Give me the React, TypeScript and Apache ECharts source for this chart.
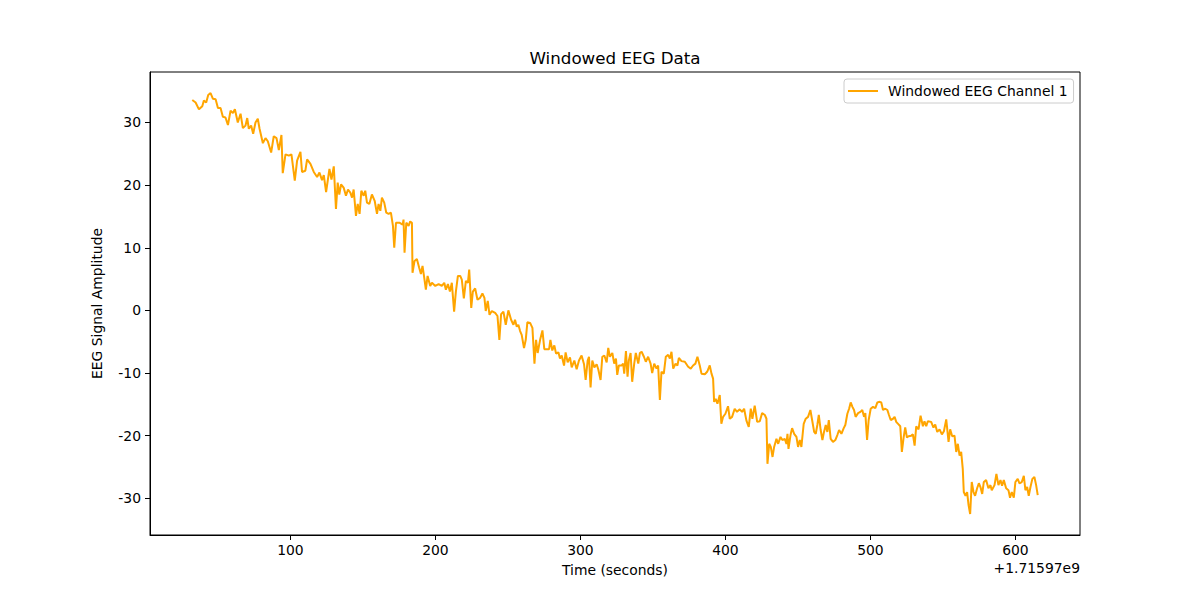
import React, { useEffect, useRef } from "react";
import * as echarts from "echarts";

const seriesName = "Windowed EEG Channel 1";
const xTicks = [100, 200, 300, 400, 500, 600];
const yTicks = [-30, -20, -10, 0, 10, 20, 30];
const offsetText = "+1.71597e9";

const times = [
  32.3, 34.6, 36.9, 39.2, 40.3, 41.9, 43.3, 44.9, 46.5, 48.4, 50.0, 51.8, 53.4, 55.2, 56.9, 58.7, 60.3, 61.7, 63.7, 65.6,
  67.2, 69.0, 70.2, 71.3, 72.9, 74.3, 75.9, 77.5, 78.7, 81.0, 82.8, 84.4, 86.7, 88.5, 90.4, 92.0, 93.8, 94.7, 96.6, 98.9,
  100.7, 103.0, 104.6, 106.9, 108.0, 110.3, 111.5, 113.8, 116.1, 118.4, 120.0, 121.8, 123.0, 124.6, 126.9, 128.3, 129.9,
  131.4, 132.6, 133.7, 134.9, 136.7, 138.3, 139.7, 141.3, 142.5, 143.6, 145.2, 146.4, 147.7, 148.9, 150.5, 151.6, 152.8,
  154.4, 156.2, 158.1, 159.7, 160.8, 162.0, 163.1, 164.7, 166.1, 167.7, 169.3, 170.7, 171.6, 172.8, 175.1, 177.4, 178.0,
  178.7, 179.9, 181.5, 182.6, 183.8, 184.2, 185.6, 187.2, 188.8, 190.0, 191.1, 192.3, 193.4, 194.6, 196.4, 197.6, 199.9,
  202.2, 204.4, 206.1, 207.2, 208.6, 210.0, 211.3, 212.9, 214.1, 215.5, 217.1, 218.2, 219.6, 221.0, 222.4, 223.3, 224.7,
  225.8, 227.4, 229.0, 230.8, 232.4, 233.8, 234.7, 236.1, 237.3, 238.9, 241.2, 242.8, 244.1, 245.3, 246.9, 248.5, 250.3,
  252.2, 253.8, 254.9, 256.1, 257.2, 258.4, 259.5, 261.1, 262.3, 263.4, 265.3, 266.9, 268.3, 269.4, 270.5, 272.2, 273.8,
  275.1, 276.7, 278.4, 279.3, 280.6, 282.0, 283.2, 284.8, 285.9, 287.1, 288.7, 289.8, 291.2, 292.8, 294.0, 295.8, 297.4,
  299.0, 300.8, 302.5, 303.6, 305.0, 305.9, 307.0, 308.2, 309.6, 311.2, 312.3, 313.9, 315.1, 316.5, 318.1, 319.2, 320.3,
  322.0, 323.3, 324.5, 325.4, 326.5, 328.4, 329.5, 330.2, 331.4, 332.5, 333.4, 334.6, 335.7, 337.1, 338.2, 339.9, 341.0,
  342.2, 343.8, 345.1, 346.7, 348.4, 349.5, 350.9, 352.5, 353.6, 354.8, 355.9, 357.5, 358.9, 360.5, 361.7, 362.8, 364.0,
  365.6, 366.9, 367.9, 369.7, 372.0, 374.3, 376.1, 377.7, 379.3, 380.7, 382.3, 383.5, 385.8, 387.4, 389.2, 390.4, 391.5,
  392.2, 393.3, 394.5, 396.1, 397.2, 398.4, 400.0, 401.8, 403.0, 404.6, 406.4, 408.0, 409.9, 411.5, 412.9, 414.5, 416.1,
  417.5, 418.6, 420.2, 421.9, 423.7, 425.3, 427.2, 428.3, 429.0, 430.2, 431.3, 432.5, 433.6, 435.2, 436.4, 438.0, 439.3,
  440.9, 442.1, 442.8, 443.5, 444.9, 446.0, 447.4, 449.0, 450.1, 451.3, 452.4, 454.0, 455.4, 457.0, 458.6, 459.8, 461.2,
  462.3, 463.4, 464.4, 465.7, 466.9, 468.0, 469.2, 470.3, 471.3, 472.6, 474.2, 475.8, 477.2, 478.4, 480.0, 481.6, 482.7,
  484.1, 485.3, 486.4, 487.6, 488.7, 489.8, 491.5, 493.1, 494.4, 495.6, 496.5, 497.7, 498.8, 500.2, 501.8, 503.4, 504.8,
  506.4, 507.5, 508.7, 510.3, 511.7, 512.8, 514.0, 515.6, 516.7, 517.8, 519.4, 520.6, 521.7, 522.9, 524.0, 525.2, 526.3,
  528.2, 529.3, 530.5, 531.6, 533.2, 534.6, 536.2, 537.3, 538.5, 539.6, 541.9, 543.5, 544.7, 546.1, 547.7, 549.3, 550.7,
  552.3, 553.9, 555.0, 556.4, 558.0, 559.2, 560.3, 561.5, 562.6, 563.7, 564.4, 565.6, 566.7, 567.7, 568.8, 569.9, 571.1,
  572.2, 573.6, 574.8, 575.9, 577.1, 578.2, 579.8, 581.4, 582.8, 583.7, 585.6, 586.9, 588.3, 589.7, 590.8, 592.0, 593.6,
  595.2, 596.3, 597.5, 598.9, 600.0, 601.6, 602.8, 604.4, 605.8, 606.9, 608.1, 609.2, 610.4, 611.7, 613.1, 614.3, 615.4,
];

const values = [
  33.6, 33.2, 32.1, 32.6, 33.5, 33.2, 34.4, 34.7, 33.8, 33.7, 32.3, 32.3, 30.9, 30.8, 29.6, 31.9, 31.5, 32.1, 30.0, 31.4,
  29.1, 29.5, 30.7, 29.0, 29.5, 28.2, 30.0, 30.6, 29.0, 26.7, 27.5, 27.0, 25.2, 27.8, 27.5, 25.6, 28.0, 21.9, 24.9, 24.7,
  24.9, 20.7, 23.9, 25.3, 22.1, 22.3, 24.1, 23.4, 22.1, 21.3, 22.0, 20.8, 21.6, 18.9, 22.6, 20.9, 23.0,
  16.2, 20.4, 18.5, 20.1, 19.6, 18.3, 19.3, 18.8, 18.0, 19.3, 15.1, 17.0, 15.4, 19.1, 18.3, 19.1, 17.2,
  17.0, 18.5, 17.5, 15.4, 17.0, 15.9, 18.0, 17.2, 15.6, 15.4, 15.6, 13.5, 10.0, 14.0, 14.0, 13.7, 14.5,
  9.2, 14.0, 13.5, 14.2, 14.0, 6.0, 7.9, 8.2, 6.8, 5.8, 7.1, 5.2, 3.3, 5.5, 3.9, 4.4, 3.9,
  4.2, 3.9, 4.4, 3.3, 4.2, 3.0, 4.4, -0.2, 3.0, 5.5, 5.5, 4.9, 1.9, 4.7, 4.4, 6.5, 0.4,
  3.0, 3.5, 1.7, 2.0, 2.7, 2.0, -0.1, 1.5, -0.7, -0.1, -0.4, -0.9, -4.7, -0.6, -0.2, -2.3, 0.0,
  -1.5, -2.3, -1.5, -2.6, -2.3, -3.3, -3.9, -6.0, -4.7, -1.9, -2.0, -2.8, -8.5, -4.7, -6.8, -4.7, -3.2,
  -6.2, -6.2, -6.2, -4.7, -6.4, -5.6, -6.9, -6.7, -7.7, -7.2, -8.8, -6.7, -8.3, -7.5, -9.1, -8.0, -9.4,
  -8.0, -7.2, -8.6, -11.1, -8.0, -7.4, -12.3, -8.0, -9.1, -8.6, -9.4, -11.1, -7.4, -7.2, -8.3, -6.0, -7.4,
  -6.8, -8.5, -7.7, -10.3, -8.8, -8.8, -8.5, -10.1, -6.5, -10.6, -8.0, -6.8, -11.4, -8.5, -6.8, -8.5, -6.8,
  -6.6, -7.4, -8.2, -7.4, -8.5, -10.0, -8.5, -9.3, -8.8, -14.3, -9.8, -10.1, -7.4, -7.1, -7.7, -6.6, -9.3,
  -8.5, -8.8, -7.6, -8.1, -8.2, -9.0, -9.3, -8.8, -8.5, -7.4, -8.8, -10.1, -10.2, -9.8, -8.8, -10.1, -10.9,
  -14.6, -14.1, -14.9, -13.5, -18.1, -17.0, -16.5, -15.3, -17.3, -17.0, -15.7, -16.2, -15.8, -16.2, -15.7, -17.6, -18.6,
  -15.7, -17.3, -15.2, -17.8, -17.7, -16.4, -16.7, -17.3, -24.5, -21.3, -21.8, -23.4, -21.8, -20.5, -21.3, -20.2, -20.7,
  -20.5, -21.3, -19.7, -22.1, -19.9, -18.8, -19.7, -20.2, -21.8, -20.7, -21.8, -18.1, -17.3, -17.0, -15.9, -17.5, -19.4,
  -19.7, -18.3, -16.7, -19.1, -20.7, -19.4, -18.3, -19.4, -17.5, -20.5, -21.0, -20.7, -19.9, -19.1, -19.7, -18.8, -18.3,
  -16.5, -15.7, -14.7, -15.4, -15.9, -17.0, -16.4, -16.2, -15.9, -17.0, -16.4, -20.7, -17.5, -15.7, -15.4, -15.6, -14.7,
  -14.6, -14.7, -15.9, -15.7, -15.9, -16.7, -17.5, -17.3, -17.0, -17.8, -18.2, -18.5, -22.6, -20.3, -18.7, -20.3, -20.1,
  -20.0, -19.8, -21.6, -18.5, -19.0, -16.8, -18.5, -17.7, -18.5, -17.7, -17.8, -18.7, -18.2, -19.4, -19.0, -19.8, -19.3,
  -17.4, -21.0, -19.0, -20.1, -20.0, -22.6, -21.3, -23.2, -22.6, -25.3, -29.0, -29.6, -29.0, -31.1, -32.5, -27.4, -29.0,
  -29.6, -28.4, -27.6, -28.2, -29.3, -27.4, -27.1, -28.4, -27.9, -28.7, -27.9, -26.1, -27.9, -27.1, -28.0, -27.1, -28.4,
  -28.7, -29.9, -29.0, -29.9, -27.4, -26.9, -27.6, -27.4, -26.4, -28.7, -28.2, -29.6, -28.2, -26.9, -26.6, -27.9, -29.5,
];

const FONT = "DejaVu Sans";

export default function App() {
  const ref = useRef<HTMLDivElement>(null);
  useEffect(() => {
    if (!ref.current) return;
    const chart = echarts.init(ref.current, null, { renderer: "svg" });
    const data = times.map((t, i) => [t, values[i]]);
    const xMinD = Math.min(...times), xMaxD = Math.max(...times);
    const yMinD = Math.min(...values), yMaxD = Math.max(...values);
    const xPad = (xMaxD - xMinD) * 0.05;
    const yPad = (yMaxD - yMinD) * 0.05;
    chart.setOption({
      animation: false,
      backgroundColor: "#ffffff",
      textStyle: { fontFamily: FONT },
      grid: {
        left: 150, right: 120, top: 72, bottom: 65,
        show: true, borderColor: "#000", borderWidth: 1, backgroundColor: "transparent",
      },
      legend: {
        data: [{ name: seriesName, icon: "rect" }],
        left: 844, top: 79,
        orient: "vertical",
        padding: [4, 6, 4, 4],
        itemWidth: 30, itemHeight: 2,
        itemStyle: { color: "#FFA500", borderWidth: 0 },
        borderColor: "#cccccc", borderWidth: 1, borderRadius: 3,
        backgroundColor: "#ffffff",
        textStyle: { fontFamily: FONT, fontSize: 13.9, color: "#000", padding: [0, 0, 0, 5], lineHeight: 16 },
      },
      xAxis: {
        type: "value",
        min: xMinD - xPad, max: xMaxD + xPad,
        name: "Time (seconds)", nameLocation: "middle", nameGap: 28,
        nameTextStyle: { fontFamily: FONT, fontSize: 13.9, color: "#000" },
        axisLine: { show: true, onZero: false, lineStyle: { color: "#000", width: 1 } },
        axisTick: { show: true, inside: false, length: 5, customValues: xTicks, lineStyle: { color: "#000" } },
        axisLabel: { customValues: xTicks, margin: 8, fontFamily: FONT, fontSize: 13.9, color: "#000" },
        splitLine: { show: false },
      },
      yAxis: {
        type: "value",
        min: yMinD - yPad, max: yMaxD + yPad,
        name: "EEG Signal Amplitude", nameLocation: "middle", nameGap: 46,
        nameTextStyle: { fontFamily: FONT, fontSize: 13.9, color: "#000" },
        axisLine: { show: true, onZero: false, lineStyle: { color: "#000", width: 1 } },
        axisTick: { show: true, inside: false, length: 5, customValues: yTicks, lineStyle: { color: "#000" } },
        axisLabel: { customValues: yTicks, margin: 9, fontFamily: FONT, fontSize: 13.9, color: "#000" },
        splitLine: { show: false },
      },
      graphic: [
        {
          type: "text", x: 615, y: 58,
          style: { text: "Windowed EEG Data", fontFamily: FONT, fontSize: 16.7, fill: "#000", textAlign: "center", textVerticalAlign: "middle" },
        },
        {
          type: "text", x: 1080, y: 568,
          style: { text: offsetText, fontFamily: FONT, fontSize: 13.9, fill: "#000", textAlign: "right", textVerticalAlign: "middle" },
        },
      ],
      series: [
        {
          name: seriesName,
          type: "line",
          data,
          symbol: "none",
          lineStyle: { color: "#FFA500", width: 2 },
          itemStyle: { color: "#FFA500" },
        },
      ],
    });
    return () => chart.dispose();
  }, []);
  return <div ref={ref} style={{ position: "fixed", left: 0, top: 0, width: 1200, height: 600 }} />;
}
